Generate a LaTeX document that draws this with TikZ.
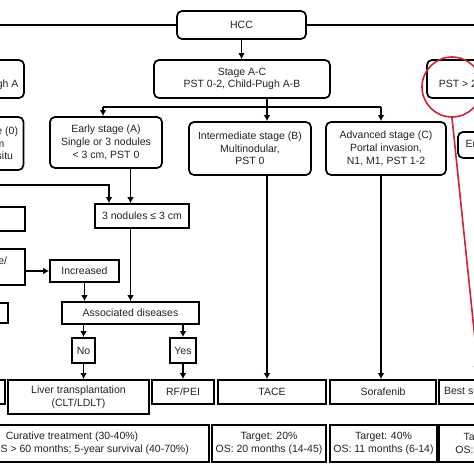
\documentclass[tikz,border=0pt]{standalone}
\usepackage{fontspec}
\setmainfont{Liberation Sans}
\usepackage{xcolor}
\usetikzlibrary{arrows.meta,positioning,calc}
\definecolor{ink}{HTML}{222222}
\definecolor{markred}{HTML}{D3202F}
\tikzset{wh/.style 2 args={minimum width=#1pt, minimum height=#2pt}}

\begin{document}
\begin{tikzpicture}[
  x=1pt, y=-1pt,
  every node/.style={font=\fontsize{10.5}{12.7}\selectfont, text=ink},
  rbox/.style={rectangle, rounded corners=5pt, draw, line width=1.7pt, align=center, inner sep=0pt},
  sbox/.style={rectangle, draw, line width=1.7pt, align=center, inner sep=0pt},
  ln/.style={line width=1.7pt},
  arr/.style={-{Latex[length=6pt,width=6.5pt]}, line width=1.7pt},
  hilite/.style={draw=markred, line width=1.6pt}
]
\useasboundingbox (0,0) rectangle (474,474);
\clip (0,0) rectangle (474,474);

% ---- Row 1: HCC ----
\node[rbox, wh={129}{28}] (HCC) at (241.5,25) {HCC};

% ---- Row 2: BCLC groups ----
\node[rbox, wh={108}{38}] (S0) at (-30,79) {Stage 0\\PST 0, Child-Pugh A};
\node[rbox, wh={176}{38}] (SAC) at (242,79) {Stage A-C\\PST 0-2, Child-Pugh A-B};
\node[rbox, wh={130}{38}] (SD) at (492,79) {Stage D\\PST > 2, Child-Pugh C};
\draw[arr] (HCC.west) -| (S0.north);
\draw[arr] (HCC.east) -| (SD.north);
\draw[arr] (HCC.south) -- (HCC.south |- SAC.north);

% ---- Row 3: stages ----
\node[rbox, wh={102}{53}] (VE) at (-27.5,143.5) {Very early stage (0)\\Single < 2 cm\\Carcinoma in situ};
\node[rbox, wh={112}{51}] (EA) at (106,142.5) {Early stage (A)\\Single or 3 nodules\\< 3 cm, PST 0};
\node[rbox, wh={122}{53}] (IB) at (250,148.5) {Intermediate stage (B)\\Multinodular,\\PST 0};
\node[rbox, wh={120}{53}] (AC) at (386,148.5) {Advanced stage (C)\\Portal invasion,\\N1, M1, PST 1-2};
\node[rbox, wh={80}{26}] (ED) at (498,145) {End stage (D)};

\coordinate (fA) at (103,107);
\coordinate (fB) at (267,107);
\coordinate (fC) at (381,107);
\draw[ln] (SAC.south -| fB) -- (fB);
\draw[ln] (fA) -- (fC);
\draw[arr] (fA) -- (fA |- EA.north);
\draw[arr] (fB) -- (fB |- IB.north);
\draw[arr] (fC) -- (fC |- AC.north);

% ---- Row 4: work-up of early stage ----
\node[sbox, wh={95}{24}] (SG) at (-22.5,219) {Single};
\node[sbox, wh={94}{24}] (N3) at (142,216) {3 nodules ≤ 3 cm};
\node[sbox, wh={110}{36}] (PP) at (-30,267) {Portal pressure/\\bilirubin};
\node[sbox, wh={69}{22}] (INC) at (84.5,271) {Increased};
\node[sbox, wh={68}{20}] (NOR) at (-26,313) {Normal};
\node[sbox, wh={137}{22}] (AD) at (130.5,313) {Associated diseases};
\node[sbox, wh={23}{25}] (NO) at (83.5,350.5) {No};
\node[sbox, wh={26}{25}] (YES) at (183,350.5) {Yes};

\coordinate (vk) at (109,185);
\draw[arr] (VE.south) |- (vk) -- (vk |- N3.north);
\draw[arr, line width=1pt] (EA.south -| AD.north) -- (N3.north -| AD.north);
\draw[arr] (N3.south -| AD.north) -- (AD.north);
\draw[arr] (PP.east |- INC.west) -- (INC.west);
\draw[arr] (INC.south) -- (INC.south |- AD.north);
\draw[arr] (AD.south -| NO.north) -- (NO.north);
\draw[arr] (AD.south -| YES.north) -- (YES.north);

% ---- Row 5: treatments ----
\node[sbox, wh={75}{24}] (RES) at (-32.5,392) {Resection};
\node[sbox, wh={141}{34}] (LT) at (78.5,397) {Liver transplantation\\(CLT/LDLT)};
\node[sbox, wh={62}{24}] (RF) at (183,392) {RF/PEI};
\node[sbox, wh={108}{24}] (TACE) at (272,392) {TACE};
\node[sbox, wh={106}{24}] (SOR) at (383,392) {Sorafenib};
\node[sbox, wh={106}{24}] (BSC) at (492,392) {Best supportive care};

\draw[arr] (NO.south) -- (NO.south |- LT.north);
\draw[arr] (YES.south) -- (YES.south |- RF.north);
\draw[arr] (IB.south -| fB) -- (fB |- TACE.north);
\draw[arr] (AC.south -| fC) -- (fC |- SOR.north);

% ---- Row 6: outcomes ----
\node[sbox, wh={274}{37}] (CUR) at (72,443.5) {Curative treatment (30-40\%)\\Median OS > 60 months; 5-year survival (40-70\%)};
\node[sbox, wh={114}{37}] (O1) at (269,443.5) {Target: 20\%\\OS: 20 months (14-45)};
\node[sbox, wh={107}{37}] (O2) at (383.5,443.5) {Target: 40\%\\OS: 11 months (6-14)};
\node[sbox, wh={106}{37}] (O3) at (492,443.5) {Target: 10\%\\OS: < 3 months};

% ---- red highlight ----
\node[hilite, circle, minimum size=60pt, inner sep=0pt] (ring) at (452,87) {};
\coordinate (ringend) at (479,378);
\draw[hilite, -{Latex[length=12pt,width=9pt]}] (ring.south) -- (ringend);

\end{tikzpicture}
\end{document}
